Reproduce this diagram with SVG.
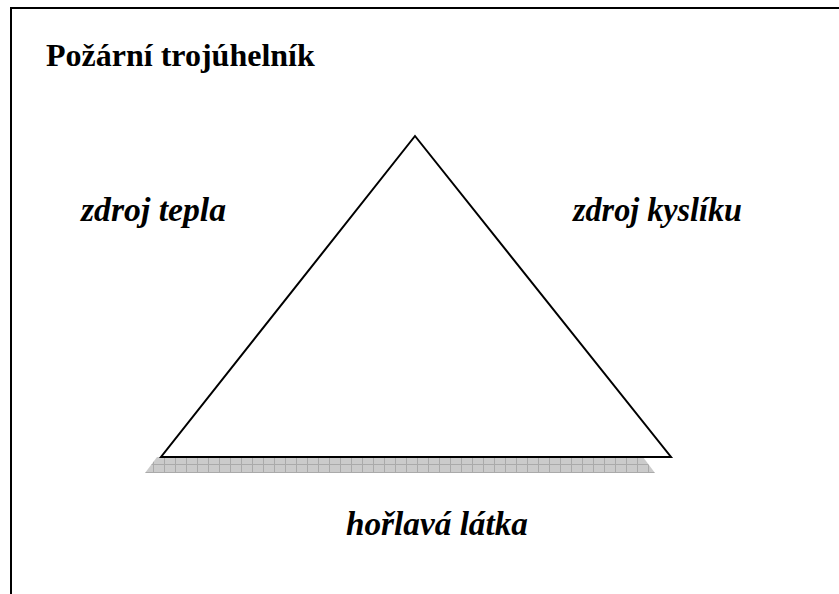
<svg xmlns="http://www.w3.org/2000/svg" width="839" height="594" viewBox="0 0 839 594">
<defs>
<pattern id="hatch" patternUnits="userSpaceOnUse" x="0" y="457" width="11" height="8">
<rect width="11" height="8" fill="#cbcbcb"/>
<path d="M0 7.5H11M10.5 0V8" stroke="#aaaaaa" stroke-width="1" fill="none"/>
</pattern>
</defs>
<style>
.lbl{font-family:"Liberation Serif","Times New Roman",serif;font-weight:bold;font-style:italic;font-size:33px;fill:#000}
.title{font-family:"Liberation Serif","Times New Roman",serif;font-weight:bold;font-size:32px;fill:#000}
.edge{fill:none;stroke:#000;stroke-width:2}
</style>
<rect width="839" height="594" fill="#fff"/>
<g id="frame">
<path class="edge" d="M11 594V8H839"/>
</g>
<g id="title"><text class="title" x="46" y="65.5">Požární trojúhelník</text></g>
<g id="ground">
<polygon points="157,457 643,457 655,473 145,473" fill="url(#hatch)"/>
</g>
<g id="connectors">
<polygon class="edge" points="415,136 671,457 161,457" fill="#fff" stroke-linejoin="miter"/>
</g>
<g id="heat"><text class="lbl" x="81" y="221" textLength="145" lengthAdjust="spacingAndGlyphs">zdroj tepla</text></g>
<g id="oxygen"><text class="lbl" x="573" y="221" textLength="169" lengthAdjust="spacingAndGlyphs">zdroj kyslíku</text></g>
<g id="fuel"><text class="lbl" x="346" y="535" textLength="182" lengthAdjust="spacingAndGlyphs">hořlavá látka</text></g>
</svg>
